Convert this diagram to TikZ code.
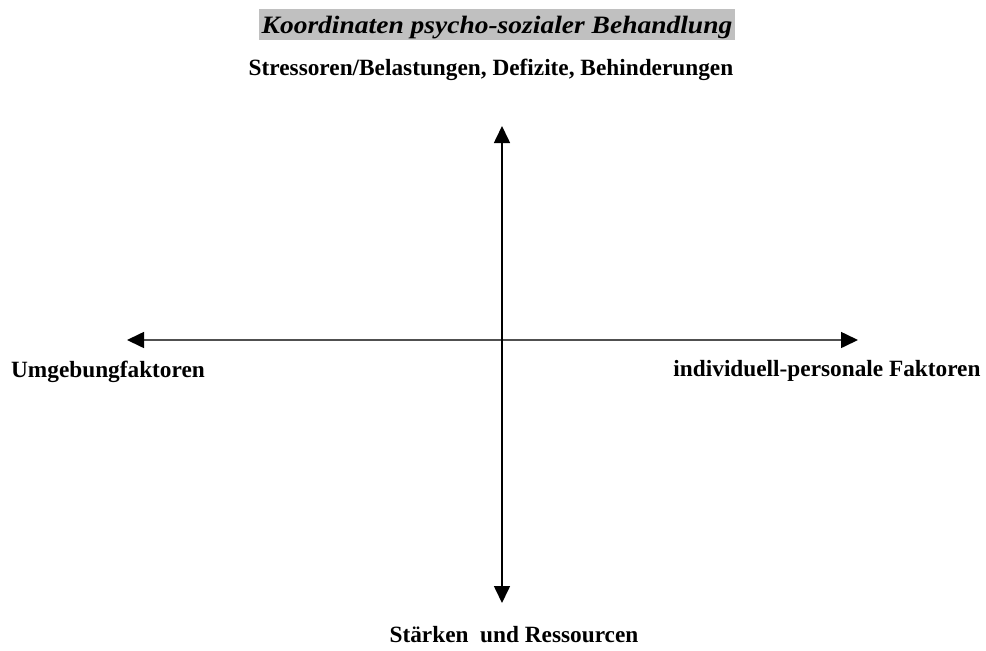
\documentclass[tikz,border=0pt]{standalone}
\usepackage{fontspec}
\setmainfont{Liberation Serif}
\usetikzlibrary{arrows.meta}
\definecolor{titlebg}{RGB}{192,192,192}
\definecolor{hline}{RGB}{80,80,80}
\begin{document}
\begin{tikzpicture}[x=1pt,y=-1pt,
  lbl/.style={font=\bfseries\fontsize{23.3}{28}\selectfont, inner sep=0pt, anchor=base},
  axis/.style={line width=1.6pt, -{Triangle[length=17pt,width=16pt,color=black]}}]
\useasboundingbox (0,0) rectangle (986,651);
\fill[titlebg] (259,9) rectangle (735,40);
\node[inner sep=0pt, anchor=base, font=\bfseries\itshape\fontsize{25}{30}\selectfont] (title) at (497,33) {\scalebox{1.1}[1]{Koordinaten psycho-sozialer Behandlung}};
\node[lbl] (top) at (491,75) {Stressoren/Belastungen, Defizite, Behinderungen};
\node[lbl] (left) at (108,377) {Umgebungfaktoren};
\node[lbl] (right) at (827,376) {individuell-personale Faktoren};
\node[lbl] (bottom) at (514,642) {Stärken\ \ und Ressourcen};
\coordinate (o) at (502,340);
\coordinate (n) at (502,126);
\coordinate (s) at (502,603);
\coordinate (w) at (127,340);
\coordinate (e) at (858,340);
\draw[axis, draw=hline] (o) -- (w);
\draw[axis, draw=hline] (o) -- (e);
\draw[axis] (o) -- (n);
\draw[axis] (o) -- (s);
\end{tikzpicture}
\end{document}
